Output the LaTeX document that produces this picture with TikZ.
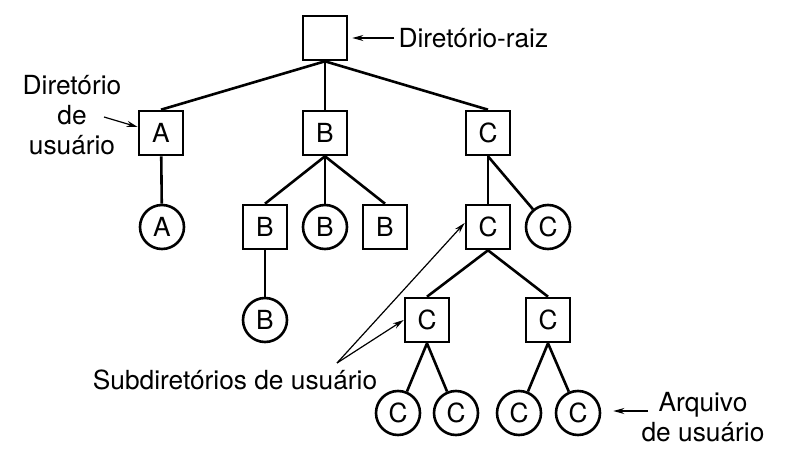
\documentclass[tikz,border=0pt]{standalone}
\usepackage{fontspec}
\setmainfont{TeX Gyre Heros}
\usetikzlibrary{arrows.meta}

\begin{document}
\begin{tikzpicture}[x=1pt,y=1pt,>={Stealth[length=11pt,width=6pt]},
                    line width=2.6pt,
                    every node/.style={font=\fontsize{26.3}{30}\selectfont}]
  \tikzstyle{dir}=[draw,minimum size=44pt,inner sep=0pt]
  \tikzstyle{arq}=[draw,circle,minimum size=44pt,inner sep=0pt]
  \tikzstyle{note}=[->,line width=1.2pt]
  \useasboundingbox (0,0) rectangle (797,464);

  \node[dir] (R)  at (325,426) {};

  \node[dir] (A)  at (161,331) {A};
  \node[dir] (B)  at (325,331) {B};
  \node[dir] (C)  at (488,331) {C};

  \node[arq] (Af)  at (162,237) {A};
  \node[dir] (Bd1) at (265,237) {B};
  \node[arq] (Bf)  at (325,237) {B};
  \node[dir] (Bd2) at (385,237) {B};
  \node[dir] (Cd)  at (488,237) {C};
  \node[arq] (Cf)  at (548,237) {C};

  \node[arq] (Bf2) at (265,144) {B};
  \node[dir] (Cd1) at (427,144) {C};
  \node[dir] (Cd2) at (548,144) {C};

  \node[arq] (Cf1) at (398,51) {C};
  \node[arq] (Cf2) at (456,51) {C};
  \node[arq] (Cf3) at (519,51) {C};
  \node[arq] (Cf4) at (578,51) {C};

  \path (R.south) edge (A.north)
        (R.south) edge (B.north)
        (R.south) edge (C.north)
        (A) edge (Af)
        (B.south) edge (Bd1.north)
        (B) edge (Bf)
        (B.south) edge (Bd2.north)
        (Bd1) edge (Bf2)
        (C) edge (Cd)
        (C.south) edge (Cf)
        (Cd.south) edge (Cd1.north)
        (Cd.south) edge (Cd2.north)
        (Cd1.south) edge (Cf1)
        (Cd1.south) edge (Cf2)
        (Cd2.south) edge (Cf3)
        (Cd2.south) edge (Cf4);

  % rotulos
  \node[anchor=west] (raiz) at (394,426) {Diretório-raiz};
  \draw[note,shorten >=4pt] (raiz.west) -- (R.east);

  \node[align=center] (usr) at (72,349) {Diretório\\de\\usuário};
  \coordinate (usrp) at (104,347);
  \draw[note] (usrp) -- (A.west |- 0,337);

  \node (sub) at (235,84) {Subdiretórios de usuário};
  \coordinate (subp) at (337,101);
  \draw[note] (subp) -- (Cd.170);
  \draw[note] (subp) -- (Cd1.west);

  \node[align=center] (arqtxt) at (703,47) {Arquivo\\de usuário};
  \coordinate (arqp) at (648,53);
  \draw[note,shorten >=12pt] (arqp) -- (Cf4.east |- arqp);
\end{tikzpicture}
\end{document}
